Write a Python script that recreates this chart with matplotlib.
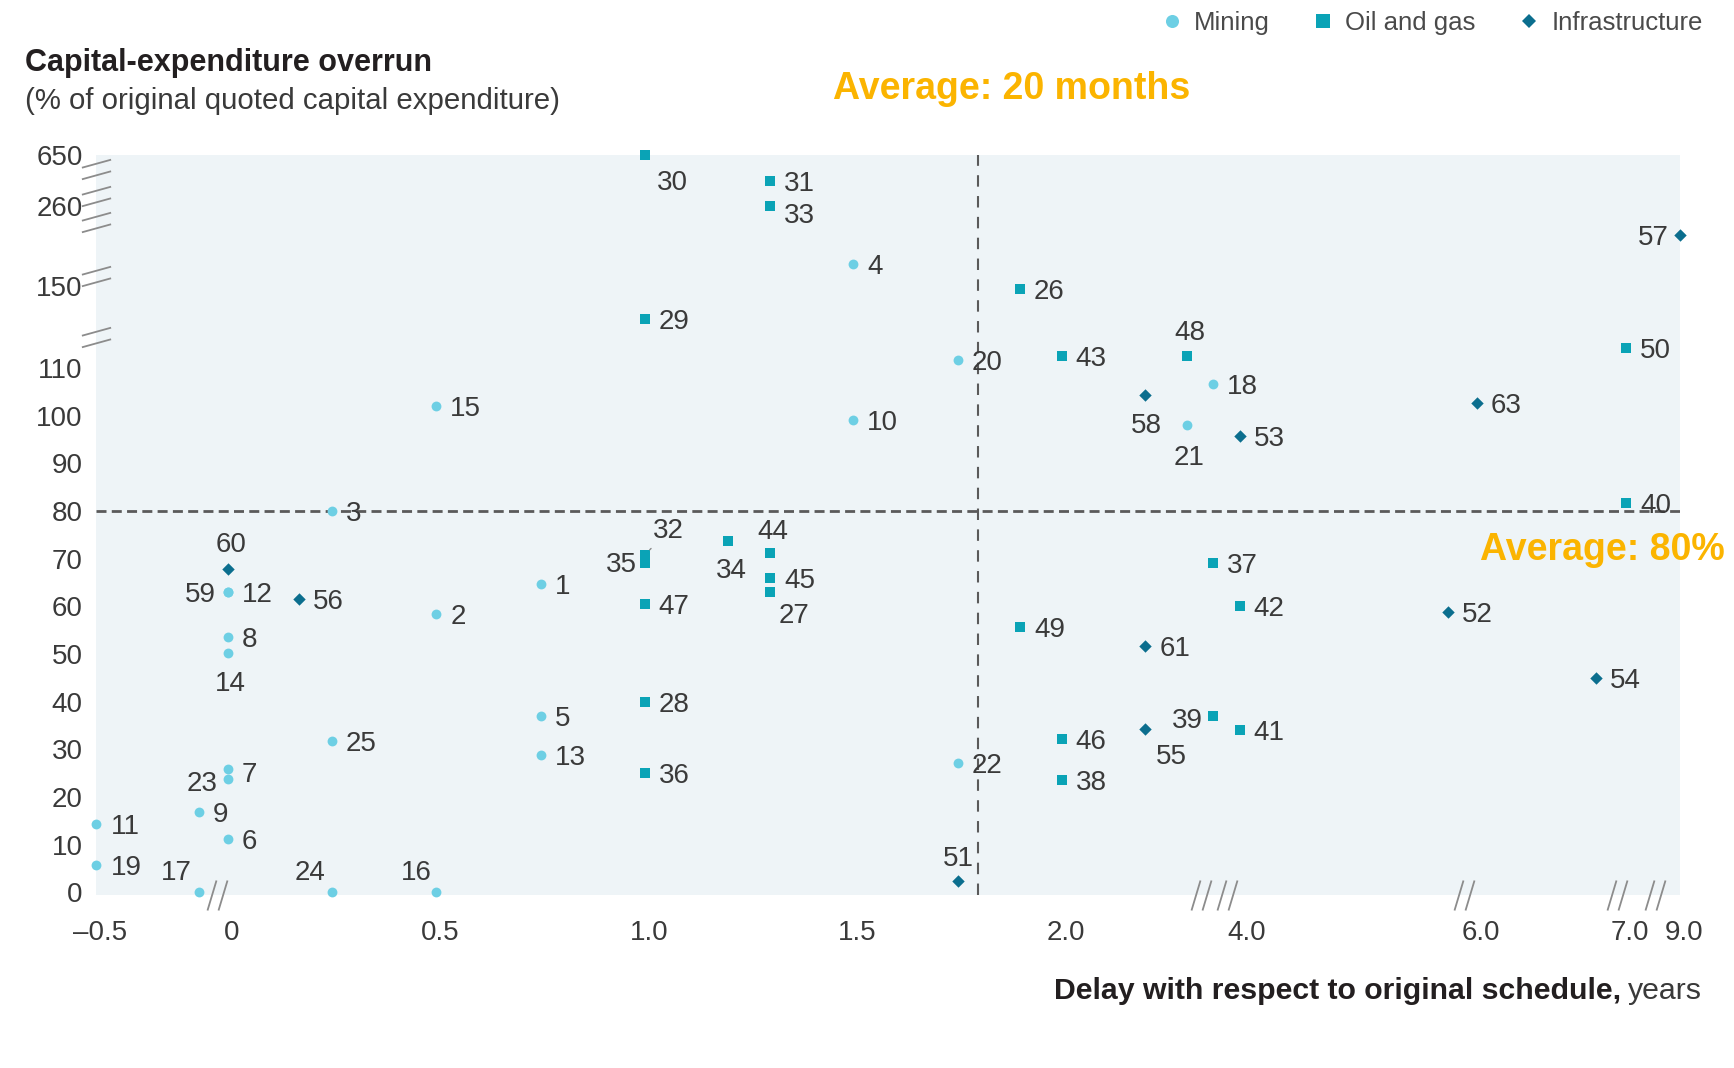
import numpy as np
import matplotlib
matplotlib.use("Agg")
import matplotlib.pyplot as plt
from matplotlib.lines import Line2D
from matplotlib.path import Path
from matplotlib.transforms import ScaledTranslation

plt.rcParams["font.family"] = ["Liberation Sans", "DejaVu Sans"]

# ---- data (delay in years, capex overrun in %) ----
mining_id = [1, 2, 3, 4, 5, 6, 7, 8, 9, 10, 11, 12, 13, 14, 15, 16, 17, 18, 19,
             20, 21, 22, 23, 24, 25, 59]
mining_x = [0.75, 0.5, 0.25, 1.5, 0.75, 0, 0, 0, -0.07, 1.5, -0.5, 0, 0.75, 0,
            0.5, 0.5, -0.07, 3.1, -0.5, 1.75, 2.3, 1.75, 0, 0.25, 0.25, 0]
mining_y = [64.7, 58.4, 80, 180, 36.9, 11.1, 25.9, 53.6, 16.8, 99.1, 14.4, 63,
            28.7, 50.1, 102.1, 0, 0, 106.6, 5.7, 111.6, 98, 27.1, 23.8, 0, 31.7, 63]

oil_id = [26, 27, 28, 29, 30, 31, 32, 33, 34, 35, 36, 37, 38, 39, 40, 41, 42,
          43, 44, 45, 46, 47, 48, 49, 50]
oil_x = [1.9, 1.3, 1.0, 1.0, 1.0, 1.3, 1.0, 1.3, 1.2, 1.0, 1.0, 3.1, 2.0, 3.1,
         7.0, 3.9, 3.9, 2.0, 1.3, 1.3, 2.0, 1.0, 2.3, 1.9, 7.0]
oil_y = [148, 62.9, 39.9, 130, 650, 450, 70.8, 260, 73.7, 69.1, 25, 69, 23.6,
         36.9, 81.6, 34.1, 60, 112.4, 71.2, 66, 32.2, 60.5, 112.4, 55.6, 114.2]

infra_id = [51, 52, 53, 54, 55, 56, 57, 58, 60, 61, 63]
infra_x = [1.75, 5.75, 3.9, 6.8, 2.2, 0.17, 9.0, 2.2, 0, 2.2, 6.0]
infra_y = [2.3, 58.7, 95.7, 45, 34.3, 61.6, 220, 104.4, 67.8, 51.6, 102.6]

x_ticks = [-0.5, 0, 0.5, 1.0, 1.5, 2.0, 4.0, 6.0, 7.0, 9.0]
x_tick_labels = ["\u20130.5", "0", "0.5", "1.0", "1.5", "2.0", "4.0", "6.0", "7.0", "9.0"]
y_ticks = [0, 10, 20, 30, 40, 50, 60, 70, 80, 90, 100, 110, 150, 260, 650]

avg_overrun = 80
avg_delay_pos = 1.8

# ---- broken axes: piecewise linear scales ----
x_knot_val = [-0.5, -0.1, 2.3, 4.0, 6.0, 7.0, 9.0]
x_knot_pos = [96.5, 186.1, 1186.9, 1243, 1477, 1626, 1680]
y_knot_val = [-0.57, 0, 115, 150, 260, 650]
y_knot_pos = [0, 2.7, 551, 608.9, 689, 740]


def fx(v):
    return np.interp(v, x_knot_val, x_knot_pos)


def fx_inv(p):
    return np.interp(p, x_knot_pos, x_knot_val)


def fy(v):
    return np.interp(v, y_knot_val, y_knot_pos)


def fy_inv(p):
    return np.interp(p, y_knot_pos, y_knot_val)


# label placement: default is to the right of the marker
label_pos = {14: (3, -28), 16: (-20, 22), 17: (-22, 22), 21: (2, -30),
             23: (-26, -2), 24: (-22, 22), 59: (-27, 0), 27: (24, -21),
             30: (28, -25), 32: (24, 27), 34: (3, -27), 35: (-23, 1),
             39: (-26, -2), 44: (3, 24), 48: (3, 26), 51: (1, 25),
             55: (26, -25), 57: (-27, 0), 58: (1, -28), 60: (3, 27)}
label_dy_right = {33: -7, 7: -3}

c_mining = "#6dcfe4"
c_oil = "#0aa3b6"
c_infra = "#0b6e8e"
c_text = "#3a3a3a"
c_avg = "#fbb400"

fig = plt.figure(figsize=(17.34, 10.68), dpi=100)
ax = fig.add_axes([0.05565, 0.16199, 0.91321, 0.69288])
ax.set_xscale("function", functions=(fx, fx_inv))
ax.set_yscale("function", functions=(fy, fy_inv))
ax.set_xlim(-0.5, 9.0)
ax.set_ylim(-0.57, 650)
ax.set_facecolor("#eef4f7")
for s in ax.spines.values():
    s.set_visible(False)

ax.set_xticks(x_ticks)
ax.set_xticklabels(x_tick_labels)
ax.set_yticks(y_ticks)
ax.set_yticklabels([str(v) for v in y_ticks])
ax.tick_params(axis="both", length=0, labelsize=20, labelcolor=c_text)
ax.tick_params(axis="x", pad=18)
ax.tick_params(axis="y", pad=10)
for lab in ax.get_xticklabels():
    lab.set_transform(lab.get_transform() + ScaledTranslation(0.04, 0, fig.dpi_scale_trans))

# averages
ax.axhline(avg_overrun, color="#5a5a5a", lw=2.0, dashes=(3.6, 1.9), zorder=1)
ax.axvline(avg_delay_pos, color="#5a5a5a", lw=1.5, dashes=(5.5, 4.5), zorder=1)

ax.scatter(infra_x, infra_y, s=40, marker="D", color=c_infra, linewidths=0, zorder=3, clip_on=False)
ax.scatter(oil_x, oil_y, s=58, marker="s", color=c_oil, linewidths=0, zorder=3, clip_on=False)
ax.scatter(mining_x, mining_y, s=50, marker="o", color=c_mining, linewidths=0, zorder=4, clip_on=False)

# point labels
for ids, xs, ys in [(mining_id, mining_x, mining_y), (oil_id, oil_x, oil_y),
                    (infra_id, infra_x, infra_y)]:
    for i, x, y in zip(ids, xs, ys):
        if i in label_pos:
            dx, dy = label_pos[i]
            arrow = None
            if i == 32:
                arrow = dict(arrowstyle="-", color="#8a8a8a", lw=1.0, shrinkA=2, shrinkB=5)
            ax.annotate(str(i), (x, y), xytext=(dx, dy), textcoords="offset pixels",
                        ha="center", va="center_baseline", fontsize=20, color=c_text,
                        zorder=5, annotation_clip=False, arrowprops=arrow)
        else:
            ax.annotate(str(i), (x, y), xytext=(14, label_dy_right.get(i, 0)),
                        textcoords="offset pixels", ha="left", va="center_baseline",
                        fontsize=20, color=c_text, zorder=5, annotation_clip=False)

# axis break marks
y_break_mark = Path([(-1, -0.673), (1, -0.121), (-1, 0.121), (1, 0.673)],
                    [Path.MOVETO, Path.LINETO, Path.MOVETO, Path.LINETO])
x_break_mark = Path([(-0.667, -1), (-0.067, 1), (0.067, -1), (0.667, 1)],
                    [Path.MOVETO, Path.LINETO, Path.MOVETO, Path.LINETO])
y_breaks = [543, 340, 238.7, 163.9, 119.5]
x_breaks = [-0.026, 2.73, 3.52, 5.89, 6.94, 8.07]
ax.plot([-0.5] * len(y_breaks), y_breaks, ls="none", marker=y_break_mark, ms=21,
        mec="#8c8c8c", mew=1.3, clip_on=False, zorder=2)
ax.plot(x_breaks, [-0.57] * len(x_breaks), ls="none", marker=x_break_mark, ms=21.6,
        mec="#8c8c8c", mew=1.3, clip_on=False, zorder=2)

# titles
fig.text(0.0144, 0.941, "Capital-expenditure overrun", fontsize=22, fontweight="bold",
         color="#231f20", ha="left", va="center")
fig.text(0.0144, 0.905, "(% of original quoted capital expenditure)", fontsize=21.2,
         color=c_text, ha="left", va="center")
fig.text(0.4805, 0.917, "Average: 20 months", fontsize=27, fontweight="bold",
         color=c_avg, ha="left", va="center")
fig.text(0.9945, 0.485, "Average: 80%", fontsize=27, fontweight="bold",
         color=c_avg, ha="right", va="center")

t_years = fig.text(0.9815, 0.0646, "years", fontsize=21.8, color=c_text,
                   ha="right", va="baseline")
fig.canvas.draw()
bb = t_years.get_window_extent()
fig.text(bb.x0 / fig.bbox.width - 0.004, 0.0646, "Delay with respect to original schedule,",
         fontsize=21.8, fontweight="bold", color="#231f20", ha="right", va="baseline")

# legend
handles = [
    Line2D([], [], ls="none", marker="o", ms=9.4, color=c_mining, mew=0, label="Mining"),
    Line2D([], [], ls="none", marker="s", ms=9.4, color=c_oil, mew=0, label="Oil and gas"),
    Line2D([], [], ls="none", marker="D", ms=7.6, color=c_infra, mew=0, label="Infrastructure"),
]
fig.legend(handles=handles, loc="center right", bbox_to_anchor=(0.982, 0.9785), ncol=3,
           frameon=False, fontsize=18.5, handletextpad=0.36, columnspacing=1.58,
           handlelength=1.0, labelcolor="#4a4a4a", borderpad=0, borderaxespad=0)

fig.savefig("out.png", dpi=100)
